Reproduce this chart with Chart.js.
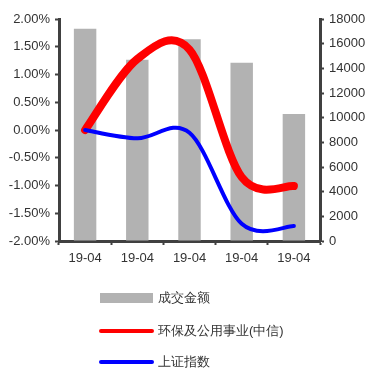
<!DOCTYPE html>
<html>
<head>
<meta charset="utf-8">
<script src="https://cdn.jsdelivr.net/npm/chart.js@4.4.1/dist/chart.umd.min.js"></script>
<style>
  html, body { margin: 0; padding: 0; background: #fff; }
  #wrap { width: 369px; height: 369px; position: relative; }
</style>
</head>
<body>
<div id="wrap"><canvas id="c" width="369" height="369"></canvas></div>
<script>
// Categories and series
const categories = ['19-04', '19-04', '19-04', '19-04', '19-04'];
const turnover = [17200, 14700, 16350, 14450, 10300];        // 成交金额 (right axis)
const sectorReturn = [0.00, 1.28, 1.45, -0.85, -1.01];        // 环保及公用事业(中信), %
const indexReturn = [0.00, -0.15, -0.05, -1.69, -1.73];       // 上证指数, %
const seriesNames = ['成交金额', '环保及公用事业(中信)', '上证指数'];

const FONT = '"Liberation Sans", Arial, sans-serif';
const AXIS = '#404040';
const TEXT = '#333333';

// Uniform Catmull-Rom control points for the smoothed lines
const catmullRom = {
  id: 'catmullRom',
  beforeDatasetDraw(chart, args) {
    const meta = args.meta;
    if (meta.type !== 'line') return;
    const line = meta.dataset;
    const pts = meta.data;
    if (line && line.updateControlPoints) line.updateControlPoints(chart.chartArea);
    const n = pts.length;
    for (let i = 0; i < n; i++) {
      const p = pts[i];
      const prev = pts[Math.max(0, i - 1)];
      const next = pts[Math.min(n - 1, i + 1)];
      const tx = (next.x - prev.x) / 2;
      const ty = (next.y - prev.y) / 2;
      p.cp1x = p.x - tx / 3;
      p.cp1y = p.y - ty / 3;
      p.cp2x = p.x + tx / 3;
      p.cp2y = p.y + ty / 3;
    }
    if (line) line._path = undefined;
  }
};

// Vertical legend drawn under the x-axis labels
const stackedLegend = {
  id: 'stackedLegend',
  afterDraw(chart) {
    const ctx = chart.ctx;
    const rows = [298, 331, 362];
    ctx.save();
    chart.data.datasets.forEach((ds, i) => {
      const y = rows[i];
      if (ds.type === 'bar') {
        ctx.fillStyle = ds.backgroundColor;
        ctx.fillRect(100, y - 5, 53, 10);
      } else {
        ctx.strokeStyle = ds.borderColor;
        ctx.lineWidth = 4;
        ctx.lineCap = 'round';
        ctx.beginPath();
        ctx.moveTo(101, y);
        ctx.lineTo(152, y);
        ctx.stroke();
      }
      ctx.fillStyle = TEXT;
      ctx.font = '13px ' + FONT;
      ctx.textBaseline = 'middle';
      ctx.textAlign = 'left';
      ctx.fillText(ds.label, 158, y);
    });
    ctx.restore();
  }
};

new Chart(document.getElementById('c'), {
  data: {
    labels: categories,
    datasets: [
      {
        type: 'bar',
        label: seriesNames[0],
        data: turnover,
        yAxisID: 'y1',
        backgroundColor: '#b2b2b2',
        barPercentage: 0.43,
        categoryPercentage: 1,
        order: 3
      },
      {
        type: 'line',
        label: seriesNames[1],
        data: sectorReturn,
        yAxisID: 'y',
        borderColor: '#ff0000',
        borderWidth: 8,
        borderCapStyle: 'round',
        borderJoinStyle: 'round',
        tension: 0.4,
        pointRadius: 0,
        fill: false,
        order: 2
      },
      {
        type: 'line',
        label: seriesNames[2],
        data: indexReturn,
        yAxisID: 'y',
        borderColor: '#0000ff',
        borderWidth: 4,
        borderCapStyle: 'round',
        borderJoinStyle: 'round',
        tension: 0.4,
        pointRadius: 0,
        fill: false,
        order: 1
      }
    ]
  },
  options: {
    responsive: false,
    animation: false,
    devicePixelRatio: 1,
    layout: { padding: { top: 19, left: 0, right: 0, bottom: 0 } },
    plugins: {
      legend: { display: false },
      tooltip: { enabled: false }
    },
    scales: {
      x: {
        type: 'category',
        offset: true,
        grid: {
          offset: true,
          drawOnChartArea: false,
          drawTicks: true,
          tickLength: 4,
          tickWidth: 2,
          tickColor: AXIS
        },
        border: { display: true, color: AXIS, width: 3 },
        ticks: { color: TEXT, font: { family: FONT, size: 13 }, padding: 6, maxRotation: 0 },
        afterFit(scale) { scale.height = 128; }
      },
      y: {
        type: 'linear',
        position: 'left',
        min: -2,
        max: 2,
        grid: {
          drawOnChartArea: false,
          drawTicks: true,
          tickLength: 4,
          tickWidth: 2,
          tickColor: AXIS
        },
        border: { display: true, color: AXIS, width: 3 },
        ticks: {
          stepSize: 0.5,
          color: TEXT,
          font: { family: FONT, size: 13 },
          padding: 5,
          callback: v => v.toFixed(2) + '%'
        },
        afterFit(scale) { scale.width = 59; }
      },
      y1: {
        type: 'linear',
        position: 'right',
        min: 0,
        max: 18000,
        grid: {
          drawOnChartArea: false,
          drawTicks: true,
          tickLength: 4,
          tickWidth: 2,
          tickColor: AXIS
        },
        border: { display: true, color: AXIS, width: 3 },
        ticks: {
          stepSize: 2000,
          color: TEXT,
          font: { family: FONT, size: 13 },
          padding: 5,
          callback: v => String(v)
        },
        afterFit(scale) { scale.width = 49; }
      }
    }
  },
  plugins: [catmullRom, stackedLegend]
});
</script>
</body>
</html>
